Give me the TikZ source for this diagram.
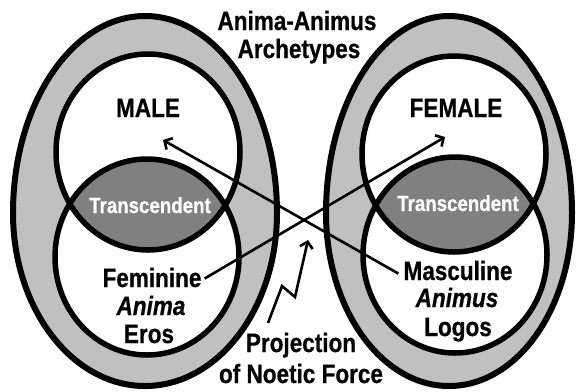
\documentclass[tikz,border=0pt]{standalone}
\usepackage{fontspec}
\setmainfont{Liberation Sans}[FakeStretch=0.85,FakeBold=0.6]
\usetikzlibrary{arrows.meta}
\definecolor{bandgray}{RGB}{192,192,192}
\definecolor{lensgray}{RGB}{128,128,128}
\begin{document}
\begin{tikzpicture}[x=1bp,y=-1bp,
  lbl/.style={font=\fontsize{26.5bp}{28bp}\selectfont\bfseries, anchor=base, inner sep=0pt},
  ilbl/.style={font=\fontsize{26.5bp}{28bp}\selectfont\bfseries\itshape, anchor=base, inner sep=0pt},
  tlbl/.style={font=\fontsize{22bp}{24bp}\selectfont\bfseries, text=white, anchor=base, inner sep=0pt},
  outerring/.style={fill=bandgray, draw=black, line width=6bp},
  innerline/.style={draw=black, line width=5.5bp},
  arr/.style={line width=2.6bp, -{Straight Barb[length=6bp,width=13bp,line width=2.6bp]}},
]
\useasboundingbox (0,0) rectangle (576,391);
\clip (0,0) rectangle (576,391);
% ---------- left group ----------
\path[outerring] (13,213) arc[start angle=180, end angle=360, x radius=132, y radius=197]
  arc[start angle=0, end angle=180, x radius=132, y radius=173] -- cycle;
\fill[white] (148,152) ellipse [x radius=92, y radius=98];
\fill[white] (147,257) ellipse [x radius=92, y radius=98];
\begin{scope}
  \clip (148,152) ellipse [x radius=92, y radius=98];
  \fill[lensgray] (147,257) ellipse [x radius=92, y radius=98];
\end{scope}
\path[innerline] (148,152) ellipse [x radius=92, y radius=98];
\path[innerline] (147,257) ellipse [x radius=92, y radius=98];
% ---------- right group ----------
\path[outerring] (326,213) arc[start angle=180, end angle=360, x radius=123, y radius=197]
  arc[start angle=0, end angle=180, x radius=123, y radius=173] -- cycle;
\fill[white] (454,154) ellipse [x radius=92, y radius=98];
\fill[white] (455,255) ellipse [x radius=92, y radius=98];
\begin{scope}
  \clip (454,154) ellipse [x radius=92, y radius=98];
  \fill[lensgray] (455,255) ellipse [x radius=92, y radius=98];
\end{scope}
\path[innerline] (454,154) ellipse [x radius=92, y radius=98];
\path[innerline] (455,255) ellipse [x radius=92, y radius=98];
% ---------- texts ----------
\node[lbl] (title1) at (297,30) {Anima-Animus};
\node[lbl] (title2) at (299,58) {Archetypes};
\node[lbl] (male) at (148,117) {MALE};
\node[lbl] (female) at (456,117) {FEMALE};
\node[tlbl] (transL) at (150,213) {Transcendent};
\node[tlbl] (transR) at (458,211) {Transcendent};
\node[lbl] (fem) at (152,287) {Feminine};
\node[ilbl] (anima) at (151,315) {Anima};
\node[lbl] (eros) at (149,343) {Eros};
\node[lbl] (masc) at (458,280) {Masculine};
\node[ilbl] (animus) at (457,307) {Animus};
\node[lbl] (logos) at (458,336) {Logos};
\node[lbl] (proj1) at (301,352) {Projection};
\node[lbl] (proj2) at (301,383) {of Noetic Force};
% ---------- connectors ----------
\coordinate (femtip) at (445,137);
\coordinate (maletip) at (163,140);
\coordinate (boltstart) at (268,323);
\coordinate (bolttip) at (308,240);
\draw[arr] ([xshift=3bp,yshift=-1bp]fem.east) -- (femtip);
\draw[arr] ([xshift=-5bp,yshift=-3bp]masc.west) -- (maletip);
\draw[arr] (boltstart) -- (282,286) -- (295,297) -- (bolttip);
\end{tikzpicture}
\end{document}
